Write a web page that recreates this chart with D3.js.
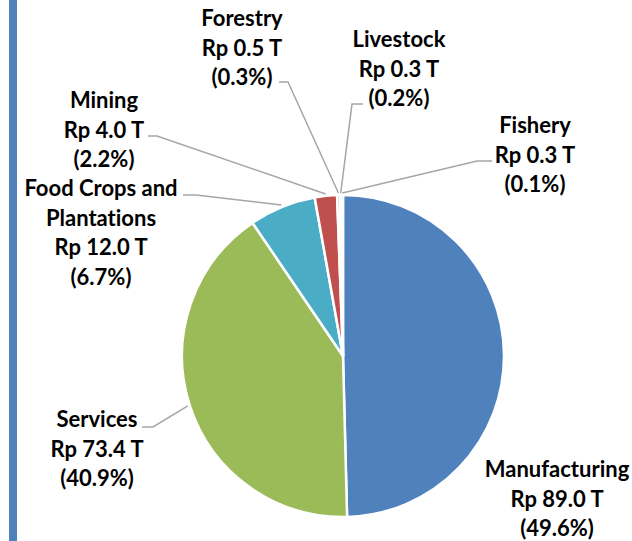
<!DOCTYPE html>
<html lang="en">
  <head>
    <meta charset="UTF-8" />
    <title>Pie chart</title>
    <script src="https://d3js.org/d3.v7.min.js"></script>
    <style>
      html, body { margin: 0; padding: 0; background: #fff; }
      text { font-family: Lato, "Open Sans", sans-serif; font-weight: bold; fill: #000; font-variant-ligatures: none; }
    </style>
  </head>
  <body>
    <div id="chart"></div>
    <script>
      // sectors, clockwise from 12 o'clock
      const sectors = ["Manufacturing", "Services", "Food Crops and Plantations", "Mining", "Forestry", "Livestock", "Fishery"];
      const values = [89.0, 73.4, 12.0, 4.0, 0.5, 0.3, 0.25];
      const valueLabels = ["Rp 89.0 T", "Rp 73.4 T", "Rp 12.0 T", "Rp 4.0 T", "Rp 0.5 T", "Rp 0.3 T", "Rp 0.3 T"];
      const pctLabels = ["(49.6%)", "(40.9%)", "(6.7%)", "(2.2%)", "(0.3%)", "(0.2%)", "(0.1%)"];
      const nameLines = [["Manufacturing"], ["Services"], ["Food Crops and", "Plantations"], ["Mining"], ["Forestry"], ["Livestock"], ["Fishery"]];
      const colors = ["#4F81BD", "#9BBB59", "#4BACC6", "#C0504D", "#8064A2", "#F79646", "#2C4D75"];

      // label placement (text centre x, first baseline y, leader start + elbow)
      const labelPos = [
        { x: 557, y: 477, leader: null },
        { x: 97, y: 427, leader: [[142, 427], [153, 427]] },
        { x: 101, y: 196, leader: [[183, 195], [196, 195]] },
        { x: 104, y: 108, leader: [[148, 136], [157, 136]] },
        { x: 242, y: 26, leader: [[279, 82], [288, 82]] },
        { x: 399, y: 47, leader: [[363, 104], [352, 104]] },
        { x: 535, y: 133, leader: [[492, 161], [477, 161]] }
      ];

      const width = 632, height = 541;
      const cx = 343, cy = 356, r = 161;
      const lineH = 29.5;

      const svg = d3.select("#chart").append("svg")
        .attr("width", width).attr("height", height);

      // left accent bar
      svg.append("rect")
        .attr("x", 9).attr("y", 0).attr("width", 8).attr("height", height)
        .attr("fill", "#4F81BD");

      const pie = d3.pie().sort(null).value(d => d);
      const arcs = pie(values);
      const arc = d3.arc().innerRadius(0).outerRadius(r);
      const edge = d3.arc().innerRadius(r + 2).outerRadius(r + 2);

      const g = svg.append("g").attr("transform", `translate(${cx},${cy})`);
      g.selectAll("path.slice")
        .data(arcs)
        .enter()
        .append("path")
        .attr("class", "slice")
        .attr("d", arc)
        .attr("fill", (d, i) => colors[i])
        .attr("stroke", "#fff")
        .attr("stroke-width", 2.5)
        .attr("stroke-linejoin", "round");

      // leader lines
      const line = d3.line();
      svg.selectAll("path.leader")
        .data(arcs.filter((d, i) => labelPos[i].leader))
        .enter()
        .append("path")
        .attr("class", "leader")
        .attr("d", d => {
          const p = edge.centroid(d);
          const pts = labelPos[d.index].leader.concat([[p[0] + cx, p[1] + cy]]);
          return line(pts);
        })
        .attr("fill", "none")
        .attr("stroke", "#A6A6A6")
        .attr("stroke-width", 1.5);

      // labels
      const labels = svg.selectAll("text.label")
        .data(sectors)
        .enter()
        .append("text")
        .attr("class", "label")
        .attr("text-anchor", "middle")
        .attr("font-size", 22);

      labels.each(function (d, i) {
        const lines = nameLines[i].concat([valueLabels[i], pctLabels[i]]);
        d3.select(this).selectAll("tspan")
          .data(lines)
          .enter()
          .append("tspan")
          .attr("x", labelPos[i].x)
          .attr("y", (t, j) => labelPos[i].y + j * lineH)
          .text(t => t);
      });
    </script>
  </body>
</html>
